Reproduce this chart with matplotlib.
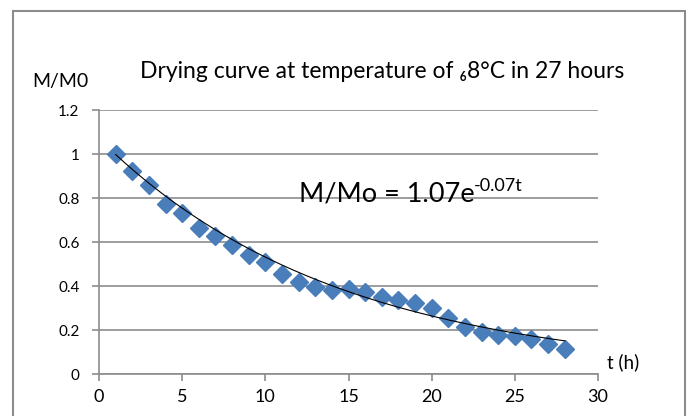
import numpy as np
import matplotlib.pyplot as plt
from matplotlib.patches import Rectangle

plt.rcParams['font.family'] = ['Lato', 'DejaVu Sans']

# drying data: time (h) and moisture ratio M/M0
t_hours = [1, 2, 3, 4, 5, 6, 7, 8, 9, 10, 11, 12, 13, 14,
           15, 16, 17, 18, 19, 20, 21, 22, 23, 24, 25, 26, 27, 28]
m_ratio = [1.0, 0.923, 0.858, 0.773, 0.732, 0.664, 0.628, 0.586, 0.541, 0.508,
           0.455, 0.418, 0.395, 0.382, 0.386, 0.373, 0.350, 0.336, 0.323, 0.300,
           0.255, 0.214, 0.192, 0.177, 0.173, 0.159, 0.137, 0.114]

x_ticks = [0, 5, 10, 15, 20, 25, 30]
y_ticks = [0, 0.2, 0.4, 0.6, 0.8, 1.0, 1.2]
y_labels = ["0", "0.2", "0.4", "0.6", "0.8", "1", "1.2"]

# exponential trendline as shown on the chart
fit_a = 1.07
fit_k = -0.07

W, H = 688, 416
fig = plt.figure(figsize=(W / 100, H / 100), dpi=100)

# outer chart border
fig.patches.append(Rectangle((13 / W, -0.05), (685 - 13) / W, 1.05 - 11 / H,
                             transform=fig.transFigure, fill=False,
                             edgecolor='#8c8c8c', lw=1.5))

ax = fig.add_axes([99 / W, 1 - 374 / H, (598 - 99) / W, (374 - 110) / H])

tt = np.linspace(t_hours[0], t_hours[-1], 200)
ax.plot(t_hours, m_ratio, linestyle='none', marker='D', markersize=9,
        color='#4a7ebb', markeredgecolor='#4a7ebb', zorder=3)
ax.plot(tt, fit_a * np.exp(fit_k * tt), color='black', lw=0.8, zorder=4)

ax.set_xlim(0, 30)
ax.set_ylim(0, 1.2)
ax.set_xticks(x_ticks)
ax.set_yticks(y_ticks)
ax.set_yticklabels(y_labels)
ax.grid(axis='y', color='#8c8c8c', lw=1.2)
ax.set_axisbelow(True)
for s in ['top', 'right']:
    ax.spines[s].set_visible(False)
for s in ['left', 'bottom']:
    ax.spines[s].set_color('#8c8c8c')
    ax.spines[s].set_linewidth(1.2)
ax.tick_params(axis='y', length=5, width=1.2, color='#8c8c8c', labelsize=11, pad=9)
ax.tick_params(axis='x', length=5, width=1.2, color='#8c8c8c', labelsize=13, pad=6)

fig.text(382 / W, 1 - 72 / H, "Drying curve at temperature of \u20868\u00b0C in 27 hours",
         ha='center', va='center', fontsize=16.5)
fig.text(60 / W, 1 - 82 / H, "M/M0", ha='center', va='center', fontsize=14)
fig.text(607 / W, 1 - 362 / H, "t (h)", ha='left', va='center', fontsize=13.5)

eq = ax.text(12, 0.82, "M/Mo = 1.07e", fontsize=19.5, ha='left', va='center')
ax.annotate("-0.07t", xy=(1, 1), xycoords=eq, xytext=(0, 2),
            textcoords='offset points', fontsize=13, ha='left', va='top')

fig.savefig("out.png", dpi=100)
